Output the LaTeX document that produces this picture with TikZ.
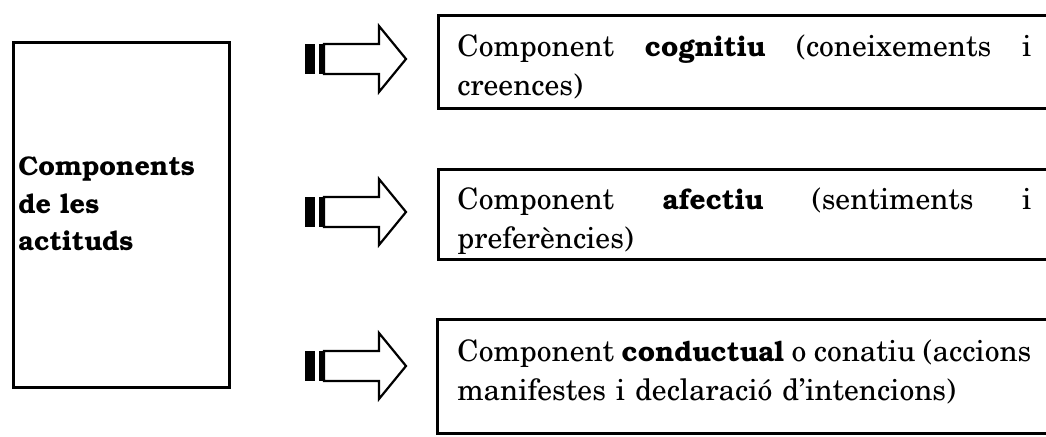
\documentclass[tikz,border=0pt]{standalone}
\usepackage[T1]{fontenc}
\usepackage{newcent}
% Bookman bold for the highlighted words
\newcommand{\bkbold}[1]{{\fontfamily{pbk}\fontseries{b}\fontsize{14}{19.5}\selectfont #1}}
% stretchable word gap for the justified first lines
\newcommand{\wgap}{\hskip 0.25em plus 1fil minus 0.1em\relax}
% a first line spread to the full text width
\newcommand{\fullline}[1]{\hbox to \linewidth{#1}\newline}
\begin{document}
\begin{tikzpicture}[x=0.5pt,y=-0.5pt,
  frame/.style={draw=black, line width=1.4pt, inner sep=0pt, anchor=north west},
  bodytext/.style={inner sep=0pt, anchor=base west, text width=287pt, align=left,
    font=\fontsize{14.8}{19.5}\selectfont},
  titletext/.style={inner sep=0pt, anchor=north west, align=left,
    font=\fontsize{13.5}{18.8}\selectfont\fontfamily{pbk}\fontseries{b}\selectfont},
  pics/stripearrow/.style={code={
    \fill (-50,-15) rectangle (-40,15);
    \fill (-36,-15) rectangle (-31,15);
    \draw[line width=1.1pt, line join=miter]
      (-31,-15) -- (24,-15) -- (24,-33) -- (51,0) -- (24,33) -- (24,15) -- (-31,15) -- cycle;
  }}]
\useasboundingbox (0,0) rectangle (1046,437);
\clip (0,0) rectangle (1046,437);

% left box with its title
\node[frame, minimum width=108pt, minimum height=172.5pt] (main) at (12,41) {};
\node[titletext] (maintext) at (18,156) {Components\\de les\\actituds};

% striped block arrows
\coordinate (a1) at (355,59);
\coordinate (a2) at (355,212);
\coordinate (a3) at (355,366);
\pic at (a1) {stripearrow};
\pic at (a2) {stripearrow};
\pic at (a3) {stripearrow};

% component boxes (running past the right edge)
\node[frame, minimum width=330pt, minimum height=46.5pt] (box1) at (437,14) {};
\node[frame, minimum width=330pt, minimum height=45pt] (box2) at (437,168) {};
\node[frame, minimum width=330pt, minimum height=57pt] (box3) at (436,318) {};

\node[bodytext] (t1) at (457,57) {\fullline{Component\wgap\bkbold{cognitiu}\wgap(coneixements\wgap i}creences)};
\node[bodytext] (t2) at (457,210) {\fullline{Component\wgap\bkbold{afectiu}\wgap(sentiments\wgap i}prefer\`encies)};
\node[bodytext] (t3) at (457,362) {\fullline{Component\wgap\bkbold{conductual}\wgap o\wgap conatiu\wgap(accions}manifestes i declaraci\'o d'intencions)};
\end{tikzpicture}
\end{document}
